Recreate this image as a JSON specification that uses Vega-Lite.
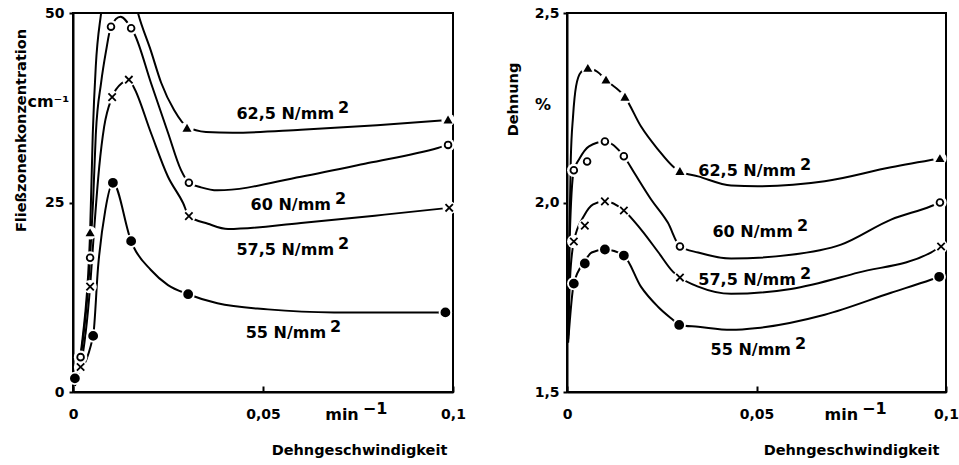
{
  "$schema": "https://vega.github.io/schema/vega-lite/v6.json",
  "background": "white",
  "padding": {"left": 11, "top": 5, "right": 5, "bottom": 5},
  "spacing": 37,
  "config": {
    "view": {"stroke": "black", "strokeWidth": 2},
    "font": "DejaVu Sans",
    "axis": {
      "labelFont": "DejaVu Sans",
      "titleFont": "DejaVu Sans",
      "labelFontSize": 14, "titleFontSize": 14.5,
      "labelFontWeight": "bold", "titleFontWeight": "bold",
      "labelColor": "black", "titleColor": "black",
      "domainColor": "black", "domainWidth": 2,
      "tickColor": "black", "tickWidth": 2,
      "labelFlush": false,
      "grid": false
    }
  },
  "datasets": {
    "curves": [
      {"p":"L","s":"62,5","x":0.0005,"y":1.5},{"p":"L","s":"62,5","x":0.0025,"y":7},{"p":"L","s":"62,5","x":0.0045,"y":21},{"p":"L","s":"62,5","x":0.0052,"y":34},{"p":"L","s":"62,5","x":0.006,"y":43},{"p":"L","s":"62,5","x":0.0074,"y":50},{"p":"L","s":"62,5","x":0.0095,"y":57},{"p":"L","s":"62,5","x":0.012,"y":59},{"p":"L","s":"62,5","x":0.0145,"y":55.5},{"p":"L","s":"62,5","x":0.0171,"y":50},{"p":"L","s":"62,5","x":0.0205,"y":45},{"p":"L","s":"62,5","x":0.0232,"y":40.8},{"p":"L","s":"62,5","x":0.0266,"y":37.2},{"p":"L","s":"62,5","x":0.03,"y":35},{"p":"L","s":"62,5","x":0.035,"y":34.3},{"p":"L","s":"62,5","x":0.042,"y":34.2},{"p":"L","s":"62,5","x":0.06,"y":34.6},{"p":"L","s":"62,5","x":0.08,"y":35.2},{"p":"L","s":"62,5","x":0.0987,"y":35.9},
      {"p":"L","s":"60","x":0.0005,"y":1.2},{"p":"L","s":"60","x":0.002,"y":4.6},{"p":"L","s":"60","x":0.0045,"y":17.7},{"p":"L","s":"60","x":0.0053,"y":25.3},{"p":"L","s":"60","x":0.006,"y":34},{"p":"L","s":"60","x":0.0074,"y":40.8},{"p":"L","s":"60","x":0.0087,"y":45},{"p":"L","s":"60","x":0.01,"y":48.2},{"p":"L","s":"60","x":0.0125,"y":49.5},{"p":"L","s":"60","x":0.0153,"y":48},{"p":"L","s":"60","x":0.0162,"y":47.2},{"p":"L","s":"60","x":0.0205,"y":40.8},{"p":"L","s":"60","x":0.025,"y":34.2},{"p":"L","s":"60","x":0.0284,"y":29.3},{"p":"L","s":"60","x":0.0305,"y":27.6},{"p":"L","s":"60","x":0.0337,"y":27.0},{"p":"L","s":"60","x":0.038,"y":26.6},{"p":"L","s":"60","x":0.06,"y":28.4},{"p":"L","s":"60","x":0.0776,"y":30.2},{"p":"L","s":"60","x":0.096,"y":32.2},{"p":"L","s":"60","x":0.0987,"y":32.6},
      {"p":"L","s":"57,5","x":0.0005,"y":0.8},{"p":"L","s":"57,5","x":0.002,"y":3.3},{"p":"L","s":"57,5","x":0.0045,"y":13.9},{"p":"L","s":"57,5","x":0.0055,"y":21},{"p":"L","s":"57,5","x":0.0069,"y":29.7},{"p":"L","s":"57,5","x":0.0082,"y":35},{"p":"L","s":"57,5","x":0.0103,"y":38.9},{"p":"L","s":"57,5","x":0.013,"y":40.8},{"p":"L","s":"57,5","x":0.0147,"y":41.2},{"p":"L","s":"57,5","x":0.016,"y":40.2},{"p":"L","s":"57,5","x":0.0205,"y":34.2},{"p":"L","s":"57,5","x":0.025,"y":28.4},{"p":"L","s":"57,5","x":0.029,"y":24.9},{"p":"L","s":"57,5","x":0.0305,"y":23.2},{"p":"L","s":"57,5","x":0.0355,"y":22.2},{"p":"L","s":"57,5","x":0.0408,"y":21.5},{"p":"L","s":"57,5","x":0.06,"y":22.3},{"p":"L","s":"57,5","x":0.082,"y":23.4},{"p":"L","s":"57,5","x":0.099,"y":24.3},
      {"p":"L","s":"55","x":0.0005,"y":1.8},{"p":"L","s":"55","x":0.0053,"y":7.4},{"p":"L","s":"55","x":0.0066,"y":16.5},{"p":"L","s":"55","x":0.0085,"y":24},{"p":"L","s":"55","x":0.0105,"y":27.6},{"p":"L","s":"55","x":0.0153,"y":19.9},{"p":"L","s":"55","x":0.016,"y":19.1},{"p":"L","s":"55","x":0.0205,"y":16.1},{"p":"L","s":"55","x":0.025,"y":14.1},{"p":"L","s":"55","x":0.0303,"y":12.9},{"p":"L","s":"55","x":0.038,"y":11.7},{"p":"L","s":"55","x":0.0513,"y":10.9},{"p":"L","s":"55","x":0.0687,"y":10.5},{"p":"L","s":"55","x":0.0863,"y":10.5},{"p":"L","s":"55","x":0.098,"y":10.5},
      {"p":"R","s":"62,5","x":0.0003,"y":1.65},{"p":"R","s":"62,5","x":0.0006,"y":1.9},{"p":"R","s":"62,5","x":0.001,"y":2.114},{"p":"R","s":"62,5","x":0.0016,"y":2.228},{"p":"R","s":"62,5","x":0.0024,"y":2.307},{"p":"R","s":"62,5","x":0.0037,"y":2.344},{"p":"R","s":"62,5","x":0.0055,"y":2.354},{"p":"R","s":"62,5","x":0.008,"y":2.345},{"p":"R","s":"62,5","x":0.0103,"y":2.323},{"p":"R","s":"62,5","x":0.0153,"y":2.278},{"p":"R","s":"62,5","x":0.0195,"y":2.201},{"p":"R","s":"62,5","x":0.024,"y":2.14},{"p":"R","s":"62,5","x":0.0282,"y":2.093},{"p":"R","s":"62,5","x":0.0298,"y":2.082},{"p":"R","s":"62,5","x":0.0346,"y":2.069},{"p":"R","s":"62,5","x":0.0433,"y":2.045},{"p":"R","s":"62,5","x":0.0503,"y":2.043},{"p":"R","s":"62,5","x":0.068,"y":2.056},{"p":"R","s":"62,5","x":0.0855,"y":2.093},{"p":"R","s":"62,5","x":0.0984,"y":2.116},
      {"p":"R","s":"60","x":0.0003,"y":1.65},{"p":"R","s":"60","x":0.0007,"y":1.9},{"p":"R","s":"60","x":0.0018,"y":2.085},{"p":"R","s":"60","x":0.0032,"y":2.114},{"p":"R","s":"60","x":0.0058,"y":2.148},{"p":"R","s":"60","x":0.01,"y":2.161},{"p":"R","s":"60","x":0.015,"y":2.122},{"p":"R","s":"60","x":0.0177,"y":2.079},{"p":"R","s":"60","x":0.0222,"y":2.008},{"p":"R","s":"60","x":0.0266,"y":1.947},{"p":"R","s":"60","x":0.0298,"y":1.884},{"p":"R","s":"60","x":0.0346,"y":1.868},{"p":"R","s":"60","x":0.0433,"y":1.852},{"p":"R","s":"60","x":0.0591,"y":1.862},{"p":"R","s":"60","x":0.0723,"y":1.889},{"p":"R","s":"60","x":0.0855,"y":1.955},{"p":"R","s":"60","x":0.096,"y":1.99},{"p":"R","s":"60","x":0.0984,"y":2.0},
      {"p":"R","s":"57,5","x":0.0003,"y":1.64},{"p":"R","s":"57,5","x":0.0008,"y":1.8},{"p":"R","s":"57,5","x":0.0018,"y":1.897},{"p":"R","s":"57,5","x":0.0045,"y":1.965},{"p":"R","s":"57,5","x":0.0069,"y":1.995},{"p":"R","s":"57,5","x":0.01,"y":2.003},{"p":"R","s":"57,5","x":0.015,"y":1.979},{"p":"R","s":"57,5","x":0.0195,"y":1.929},{"p":"R","s":"57,5","x":0.024,"y":1.87},{"p":"R","s":"57,5","x":0.028,"y":1.817},{"p":"R","s":"57,5","x":0.0298,"y":1.802},{"p":"R","s":"57,5","x":0.0346,"y":1.778},{"p":"R","s":"57,5","x":0.0433,"y":1.759},{"p":"R","s":"57,5","x":0.0591,"y":1.772},{"p":"R","s":"57,5","x":0.0768,"y":1.815},{"p":"R","s":"57,5","x":0.096,"y":1.868},{"p":"R","s":"57,5","x":0.0987,"y":1.884},
      {"p":"R","s":"55","x":0.0003,"y":1.63},{"p":"R","s":"55","x":0.0018,"y":1.786},{"p":"R","s":"55","x":0.0047,"y":1.845},{"p":"R","s":"55","x":0.0065,"y":1.868},{"p":"R","s":"55","x":0.01,"y":1.876},{"p":"R","s":"55","x":0.015,"y":1.86},{"p":"R","s":"55","x":0.0195,"y":1.778},{"p":"R","s":"55","x":0.024,"y":1.725},{"p":"R","s":"55","x":0.028,"y":1.69},{"p":"R","s":"55","x":0.0296,"y":1.677},{"p":"R","s":"55","x":0.0346,"y":1.672},{"p":"R","s":"55","x":0.0433,"y":1.664},{"p":"R","s":"55","x":0.0503,"y":1.669},{"p":"R","s":"55","x":0.068,"y":1.704},{"p":"R","s":"55","x":0.0855,"y":1.762},{"p":"R","s":"55","x":0.096,"y":1.796},{"p":"R","s":"55","x":0.0982,"y":1.804}
    ],
    "points": [
      {"p":"L","s":"62,5","x":0.0045,"y":21},{"p":"L","s":"62,5","x":0.03,"y":34.8},{"p":"L","s":"62,5","x":0.0987,"y":35.9},
      {"p":"L","s":"60","x":0.002,"y":4.6},{"p":"L","s":"60","x":0.0045,"y":17.7},{"p":"L","s":"60","x":0.01,"y":48.2},{"p":"L","s":"60","x":0.0153,"y":48},{"p":"L","s":"60","x":0.0305,"y":27.6},{"p":"L","s":"60","x":0.0987,"y":32.6},
      {"p":"L","s":"57,5","x":0.002,"y":3.3},{"p":"L","s":"57,5","x":0.0045,"y":13.9},{"p":"L","s":"57,5","x":0.0103,"y":38.9},{"p":"L","s":"57,5","x":0.0147,"y":41.2},{"p":"L","s":"57,5","x":0.0305,"y":23.2},{"p":"L","s":"57,5","x":0.099,"y":24.3},
      {"p":"L","s":"55","x":0.0005,"y":1.8},{"p":"L","s":"55","x":0.0053,"y":7.4},{"p":"L","s":"55","x":0.0105,"y":27.6},{"p":"L","s":"55","x":0.0153,"y":19.9},{"p":"L","s":"55","x":0.0303,"y":12.9},{"p":"L","s":"55","x":0.098,"y":10.5},
      {"p":"R","s":"62,5","x":0.0055,"y":2.354},{"p":"R","s":"62,5","x":0.0103,"y":2.323},{"p":"R","s":"62,5","x":0.0153,"y":2.278},{"p":"R","s":"62,5","x":0.0298,"y":2.082},{"p":"R","s":"62,5","x":0.0984,"y":2.116},
      {"p":"R","s":"60","x":0.0018,"y":2.085},{"p":"R","s":"60","x":0.0053,"y":2.108},{"p":"R","s":"60","x":0.01,"y":2.161},{"p":"R","s":"60","x":0.015,"y":2.122},{"p":"R","s":"60","x":0.0298,"y":1.884},{"p":"R","s":"60","x":0.0984,"y":2.0},
      {"p":"R","s":"57,5","x":0.0018,"y":1.897},{"p":"R","s":"57,5","x":0.0047,"y":1.939},{"p":"R","s":"57,5","x":0.01,"y":2.003},{"p":"R","s":"57,5","x":0.015,"y":1.979},{"p":"R","s":"57,5","x":0.0298,"y":1.802},{"p":"R","s":"57,5","x":0.0987,"y":1.884},
      {"p":"R","s":"55","x":0.0018,"y":1.786},{"p":"R","s":"55","x":0.0047,"y":1.839},{"p":"R","s":"55","x":0.01,"y":1.876},{"p":"R","s":"55","x":0.015,"y":1.86},{"p":"R","s":"55","x":0.0296,"y":1.677},{"p":"R","s":"55","x":0.0982,"y":1.804}
    ],
    "labels": [
      {"p":"L","t":"62,5 N/mm","sup":"2","x":0.0687,"y":36.7},
      {"p":"L","t":"60 N/mm","sup":"2","x":0.0679,"y":24.7},
      {"p":"L","t":"57,5 N/mm","sup":"2","x":0.0687,"y":18.7},
      {"p":"L","t":"55 N/mm","sup":"2","x":0.0666,"y":7.8},
      {"p":"L","t":"cm⁻¹","sup":"","x":-0.001,"y":38.3},
      {"p":"L","t":"min","sup":"−1","x":0.0752,"y":-3.0},
      {"p":"R","t":"62,5 N/mm","sup":"2","x":0.0604,"y":2.082},
      {"p":"R","t":"60 N/mm","sup":"2","x":0.0596,"y":1.921},
      {"p":"R","t":"57,5 N/mm","sup":"2","x":0.0604,"y":1.796},
      {"p":"R","t":"55 N/mm","sup":"2","x":0.0591,"y":1.611},
      {"p":"R","t":"%","sup":"","x":-0.0042,"y":2.257},
      {"p":"R","t":"min","sup":"−1","x":0.0768,"y":1.439}
    ]
  },
  "resolve": {"scale": {"x": "independent", "y": "independent"}},
  "hconcat": [
    {
      "width": 380, "height": 379,
      "encoding": {
        "x": {"field": "x", "type": "quantitative",
          "scale": {"domain": [0, 0.1], "nice": false, "zero": false},
          "axis": {"values": [0, 0.05, 0.1], "labelExpr": "datum.value == 0 ? '0' : replace(toString(datum.value), '.', ',')",
            "title": "Dehngeschwindigkeit", "tickSize": -6, "labelPadding": 21, "titleX": 286, "titleY": 58, "titleBaseline": "middle", "titleAlign": "center"}},
        "y": {"field": "y", "type": "quantitative",
          "scale": {"domain": [0, 50], "nice": false, "zero": false},
          "axis": {"values": [0, 25, 50], "title": "Fließzonenkonzentration", "tickSize": 4, "labelPadding": 5,
            "titleX": -52, "titleY": 117, "titleBaseline": "middle", "titleAlign": "center", "titleAngle": 270}}
      },
      "layer": [
        {"data": {"name": "curves"}, "transform": [{"filter": "datum.p == 'L'"}],
          "mark": {"type": "line", "interpolate": "monotone", "clip": true, "color": "black", "strokeWidth": 2},
          "encoding": {"detail": {"field": "s"}}},
        {"data": {"name": "points"}, "transform": [{"filter": "datum.p == 'L'"}],
          "mark": {"type": "point", "filled": true, "color": "white", "size": 180, "opacity": 1}},
        {"data": {"name": "points"}, "transform": [{"filter": "datum.p == 'L'"}],
          "mark": {"type": "point", "stroke": "black", "strokeWidth": 1.8, "opacity": 1},
          "encoding": {
            "shape": {"field": "s", "type": "nominal", "legend": null, "scale": {"domain": ["55", "57,5", "60", "62,5"], "range": ["circle", "M-1,-1L1,1M1,-1L-1,1", "circle", "triangle-up"]}},
            "fill": {"field": "s", "type": "nominal", "legend": null, "scale": {"domain": ["55", "57,5", "60", "62,5"], "range": ["black", "black", "white", "black"]}},
            "size": {"field": "s", "type": "nominal", "legend": null, "scale": {"domain": ["55", "57,5", "60", "62,5"], "range": [64, 36, 30, 50]}}
          }},
        {"data": {"name": "labels"}, "transform": [{"filter": "datum.p == 'L'"}],
          "mark": {"type": "text", "align": "right", "baseline": "middle", "fontSize": 16, "fontWeight": "bold", "font": "DejaVu Sans", "color": "black"},
          "encoding": {"text": {"field": "t"}}},
        {"data": {"name": "labels"}, "transform": [{"filter": "datum.p == 'L'"}],
          "mark": {"type": "text", "align": "left", "baseline": "middle", "dx": 4, "dy": -6, "fontSize": 16, "fontWeight": "bold", "font": "DejaVu Sans", "color": "black"},
          "encoding": {"text": {"field": "sup"}}}
      ]
    },
    {
      "width": 379, "height": 379,
      "encoding": {
        "x": {"field": "x", "type": "quantitative",
          "scale": {"domain": [0, 0.1], "nice": false, "zero": false},
          "axis": {"values": [0, 0.05, 0.1], "labelExpr": "datum.value == 0 ? '0' : replace(toString(datum.value), '.', ',')",
            "title": "Dehngeschwindigkeit", "tickSize": -6, "labelPadding": 21, "titleX": 284, "titleY": 58, "titleBaseline": "middle", "titleAlign": "center"}},
        "y": {"field": "y", "type": "quantitative",
          "scale": {"domain": [1.5, 2.5], "nice": false, "zero": false},
          "axis": {"values": [1.5, 2.0, 2.5], "labelExpr": "replace(format(datum.value, '.1f'), '.', ',')", "title": "Dehnung", "tickSize": 4, "labelPadding": 4,
            "titleX": -54, "titleY": 86, "titleBaseline": "middle", "titleAlign": "center", "titleAngle": 270}}
      },
      "layer": [
        {"data": {"name": "curves"}, "transform": [{"filter": "datum.p == 'R'"}],
          "mark": {"type": "line", "interpolate": "monotone", "clip": true, "color": "black", "strokeWidth": 2},
          "encoding": {"detail": {"field": "s"}}},
        {"data": {"name": "points"}, "transform": [{"filter": "datum.p == 'R'"}],
          "mark": {"type": "point", "filled": true, "color": "white", "size": 180, "opacity": 1}},
        {"data": {"name": "points"}, "transform": [{"filter": "datum.p == 'R'"}],
          "mark": {"type": "point", "stroke": "black", "strokeWidth": 1.8, "opacity": 1},
          "encoding": {
            "shape": {"field": "s", "type": "nominal", "legend": null, "scale": {"domain": ["55", "57,5", "60", "62,5"], "range": ["circle", "M-1,-1L1,1M1,-1L-1,1", "circle", "triangle-up"]}},
            "fill": {"field": "s", "type": "nominal", "legend": null, "scale": {"domain": ["55", "57,5", "60", "62,5"], "range": ["black", "black", "white", "black"]}},
            "size": {"field": "s", "type": "nominal", "legend": null, "scale": {"domain": ["55", "57,5", "60", "62,5"], "range": [64, 36, 30, 50]}}
          }},
        {"data": {"name": "labels"}, "transform": [{"filter": "datum.p == 'R'"}],
          "mark": {"type": "text", "align": "right", "baseline": "middle", "fontSize": 16, "fontWeight": "bold", "font": "DejaVu Sans", "color": "black"},
          "encoding": {"text": {"field": "t"}}},
        {"data": {"name": "labels"}, "transform": [{"filter": "datum.p == 'R'"}],
          "mark": {"type": "text", "align": "left", "baseline": "middle", "dx": 4, "dy": -6, "fontSize": 16, "fontWeight": "bold", "font": "DejaVu Sans", "color": "black"},
          "encoding": {"text": {"field": "sup"}}}
      ]
    }
  ]
}
